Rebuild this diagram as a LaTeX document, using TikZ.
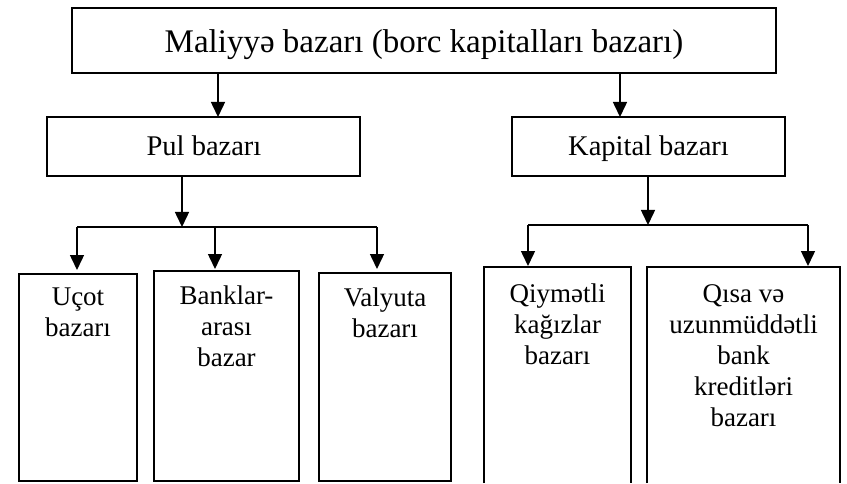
\documentclass[tikz,border=0pt]{standalone}
\usepackage{fontspec}
\setmainfont{Liberation Serif}
\usetikzlibrary{arrows.meta}
\tikzset{
  boxline/.style={line width=1.8pt},
  conn/.style={line width=1.5pt},
  arr/.style={conn,-{Triangle[length=15pt,width=14pt]}},
  bigtxt/.style={font=\fontsize{33}{36}\selectfont,anchor=base,inner sep=0pt},
  midtxt/.style={font=\fontsize{28.5}{30}\selectfont,anchor=base,inner sep=0pt},
  lowtxt/.style={font=\fontsize{27}{31}\selectfont,align=center,anchor=north,inner sep=0pt},
}
\begin{document}
\begin{tikzpicture}[x=1pt,y=1pt]
\useasboundingbox (0,0) rectangle (847,483);
% top box
\draw[boxline] (72,{483-8}) rectangle (776,{483-73});
\node[bigtxt] (top) at (424,{483-53}) {Maliyyə bazarı (borc kapitalları bazarı)};
\coordinate (topL) at (218,{483-73});
\coordinate (topR) at (620,{483-73});
% second level
\draw[boxline] (47,{483-117}) rectangle (360,{483-176});
\node[midtxt] (pul) at (204,{483-156}) {Pul bazarı};
\draw[boxline] (512,{483-117}) rectangle (785,{483-176});
\node[midtxt] (kap) at (648.5,{483-156}) {Kapital bazarı};
\coordinate (pulTop) at (218,{483-117});
\coordinate (kapTop) at (620,{483-117});
\draw[arr] (topL) -- (pulTop);
\draw[arr] (topR) -- (kapTop);
% pul branch
\coordinate (pulB) at (182,{483-176});
\coordinate (pulJ) at (182,{483-227});
\coordinate (pj1) at (77,{483-227});
\coordinate (pj2) at (215,{483-227});
\coordinate (pj3) at (377,{483-227});
\coordinate (pt1) at (77,{483-270});
\coordinate (pt2) at (215,{483-269});
\coordinate (pt3) at (377,{483-269});
\draw[arr] (pulB) -- (pulJ);
\draw[conn] (pj1) -- (pj3);
\draw[arr] (pj1) -- (pt1);
\draw[arr] (pj2) -- (pt2);
\draw[arr] (pj3) -- (pt3);
\draw[boxline] (19,{483-274}) rectangle (137,{483-481});
\draw[boxline] (154,{483-271}) rectangle (299,{483-481});
\draw[boxline] (319,{483-273}) rectangle (451,{483-481});
\node[lowtxt] (ucot) at (78,{483-288}) {Uçot\\bazarı};
\node[lowtxt] (bank) at (226.5,{483-286}) {Banklar-\\arası\\bazar};
\node[lowtxt] (valy) at (385,{483-288}) {Valyuta\\bazarı};
% kapital branch
\coordinate (kapB) at (648,{483-176});
\coordinate (kapJ) at (648,{483-225});
\coordinate (kj1) at (528,{483-225});
\coordinate (kj2) at (808,{483-225});
\coordinate (kt1) at (528,{483-266});
\coordinate (kt2) at (808,{483-266});
\draw[arr] (kapB) -- (kapJ);
\draw[conn] (kj1) -- (kj2);
\draw[arr] (kj1) -- (kt1);
\draw[arr] (kj2) -- (kt2);
\draw[boxline] (484,0) -- (484,{483-267}) -- (631,{483-267}) -- (631,0);
\draw[boxline] (647,0) -- (647,{483-267}) -- (840,{483-267}) -- (840,0);
\node[lowtxt] (qiym) at (557.5,{483-284}) {Qiymətli\\kağızlar\\bazarı};
\node[lowtxt] (qisa) at (743.5,{483-284}) {Qısa və\\uzunmüddətli\\bank\\kreditləri\\bazarı};
\end{tikzpicture}
\end{document}
